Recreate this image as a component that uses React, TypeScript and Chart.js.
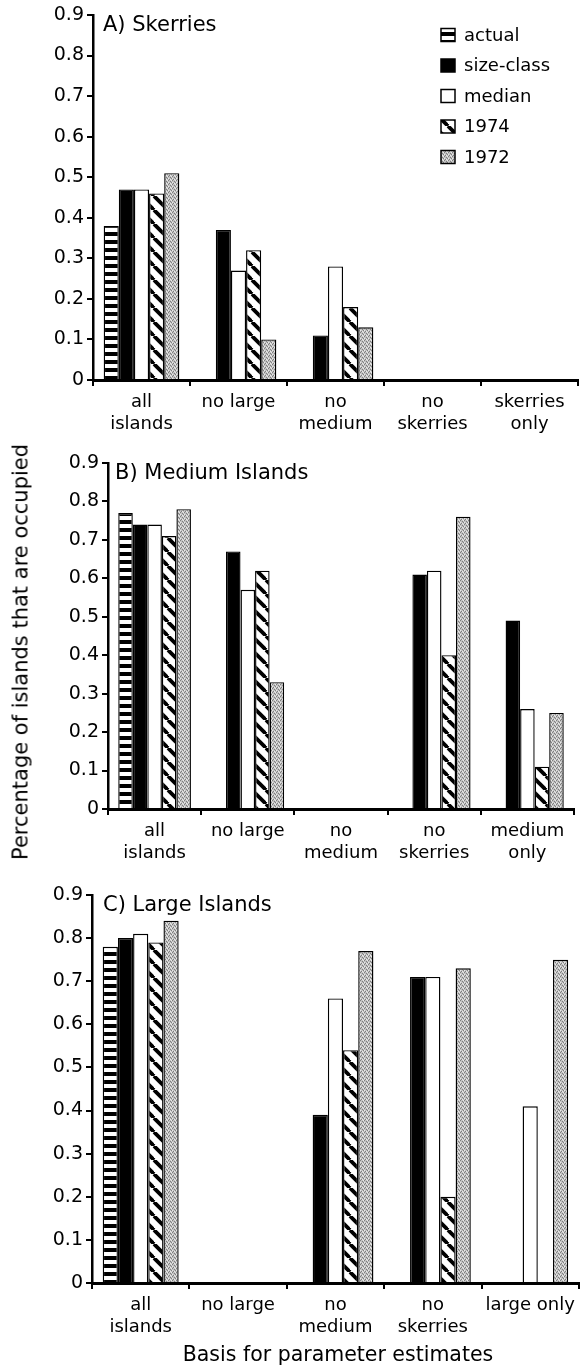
import React, { useEffect, useRef } from 'react';
import { Chart, registerables } from 'chart.js';

Chart.register(...registerables);

// ---------- data ----------
const seriesNames = ['actual', 'size-class', 'median', '1974', '1972'];
const yTickLabels = ['0', '0.1', '0.2', '0.3', '0.4', '0.5', '0.6', '0.7', '0.8', '0.9'];

const categoriesA = [['all', 'islands'], ['no large'], ['no', 'medium'], ['no', 'skerries'], ['skerries', 'only']];
const categoriesB = [['all', 'islands'], ['no large'], ['no', 'medium'], ['no', 'skerries'], ['medium', 'only']];
const categoriesC = [['all', 'islands'], ['no large'], ['no', 'medium'], ['no', 'skerries'], ['large only']];

// A) Skerries
const actualA = [0.38, null, null, null, null];
const sizeClassA = [0.47, 0.37, 0.11, null, null];
const medianA = [0.47, 0.27, 0.28, null, null];
const y1974A = [0.46, 0.32, 0.18, null, null];
const y1972A = [0.51, 0.10, 0.13, null, null];

// B) Medium Islands
const actualB = [0.77, null, null, null, null];
const sizeClassB = [0.74, 0.67, null, 0.61, 0.49];
const medianB = [0.74, 0.57, null, 0.62, 0.26];
const y1974B = [0.71, 0.62, null, 0.40, 0.11];
const y1972B = [0.78, 0.33, null, 0.76, 0.25];

// C) Large Islands
const actualC = [0.78, null, null, null, null];
const sizeClassC = [0.80, null, 0.39, 0.71, null];
const medianC = [0.81, null, 0.66, 0.71, 0.41];
const y1974C = [0.79, null, 0.54, 0.20, null];
const y1972C = [0.84, null, 0.77, 0.73, 0.75];

const yAxisTitle = 'Percentage of islands that are occupied';
const xAxisTitle = 'Basis for parameter estimates';

// ---------- layout / style ----------
const FONT = "'DejaVu Sans', 'Liberation Sans', sans-serif";
const W = 581;

type Area = { left: number; right: number; top: number; bottom: number };
type Panel = {
  key: string;
  title: string;
  categories: string[][];
  values: (number | null)[][];
  top: number;
  height: number;
  area: Area;
  titleDx: number;
  legend: boolean;
};

const panels: Panel[] = [
  {
    key: 'A', title: 'A) Skerries', categories: categoriesA,
    values: [actualA, sizeClassA, medianA, y1974A, y1972A],
    top: 0, height: 440, area: { left: 93, right: 578, top: 15, bottom: 380 }, titleDx: 10, legend: true,
  },
  {
    key: 'B', title: 'B) Medium Islands', categories: categoriesB,
    values: [actualB, sizeClassB, medianB, y1974B, y1972B],
    top: 440, height: 440, area: { left: 108, right: 574, top: 23, bottom: 369 }, titleDx: 7, legend: false,
  },
  {
    key: 'C', title: 'C) Large Islands', categories: categoriesC,
    values: [actualC, sizeClassC, medianC, y1974C, y1972C],
    top: 880, height: 487, area: { left: 92, right: 580, top: 15, bottom: 403 }, titleDx: 11, legend: false,
  },
];

function makePattern(w: number, h: number, draw: (ctx: CanvasRenderingContext2D) => void): CanvasPattern {
  const c = document.createElement('canvas');
  c.width = w;
  c.height = h;
  const ctx = c.getContext('2d') as CanvasRenderingContext2D;
  draw(ctx);
  return ctx.createPattern(c, 'repeat') as CanvasPattern;
}

function makeFills(): (string | CanvasPattern)[] {
  const stripes = makePattern(8, 8, (ctx) => {
    ctx.fillStyle = '#fff';
    ctx.fillRect(0, 0, 8, 8);
    ctx.fillStyle = '#000';
    ctx.fillRect(0, 0, 8, 4);
  });
  const hatch = makePattern(14, 14, (ctx) => {
    ctx.fillStyle = '#fff';
    ctx.fillRect(0, 0, 14, 14);
    ctx.strokeStyle = '#000';
    ctx.lineWidth = 3.8;
    for (const o of [-14, 0, 14]) {
      ctx.beginPath();
      ctx.moveTo(o, 0);
      ctx.lineTo(o + 14, 14);
      ctx.stroke();
    }
  });
  const stipple = makePattern(4, 4, (ctx) => {
    ctx.fillStyle = '#c2c2c2';
    ctx.fillRect(0, 0, 4, 4);
    ctx.fillStyle = '#7e7e7e';
    [[0, 0], [2, 1], [1, 3], [3, 2]].forEach(([x, y]) => ctx.fillRect(x, y, 1, 1));
    ctx.fillStyle = '#eaeaea';
    [[2, 3], [0, 2], [3, 0]].forEach(([x, y]) => ctx.fillRect(x, y, 1, 1));
  });
  return [stripes, '#000', '#fff', hatch, stipple];
}

const panelDecor = {
  id: 'panelDecor',
  afterDraw(chart: any, _args: any, opts: any) {
    const { ctx, chartArea } = chart;
    ctx.save();
    ctx.fillStyle = '#000';
    ctx.font = `21px ${FONT}`;
    ctx.textBaseline = 'alphabetic';
    ctx.textAlign = 'left';
    ctx.fillText(opts.title, chartArea.left + opts.titleDx, chartArea.top + 16);
    if (opts.legend) {
      const x0 = 441;
      const y0 = 35;
      const gap = 30.5;
      chart.data.datasets.forEach((ds: any, i: number) => {
        const cy = y0 + i * gap;
        ctx.fillStyle = ds.backgroundColor;
        ctx.fillRect(x0, cy - 6.5, 14, 13);
        ctx.strokeStyle = '#000';
        ctx.lineWidth = 1.5;
        ctx.strokeRect(x0, cy - 6.5, 14, 13);
        ctx.fillStyle = '#000';
        ctx.font = `18px ${FONT}`;
        ctx.textBaseline = 'middle';
        ctx.fillText(ds.label, x0 + 23, cy + 1);
      });
    }
    ctx.restore();
  },
};

function buildConfig(p: Panel, fills: (string | CanvasPattern)[]): any {
  return {
    type: 'bar',
    data: {
      labels: p.categories,
      datasets: seriesNames.map((name, i) => ({
        label: name,
        data: p.values[i],
        backgroundColor: fills[i],
        borderColor: '#000',
        borderWidth: 1.4,
        barPercentage: 1,
        categoryPercentage: 0.78,
      })),
    },
    options: {
      animation: false,
      responsive: false,
      events: [],
      layout: { padding: { top: p.area.top, right: W - p.area.right, bottom: 0, left: 0 } },
      plugins: {
        legend: { display: false },
        tooltip: { enabled: false },
        panelDecor: { title: p.title, titleDx: p.titleDx, legend: p.legend },
      },
      scales: {
        x: {
          type: 'category',
          offset: true,
          grid: { offset: true, drawOnChartArea: false, drawTicks: true, tickLength: 6, lineWidth: 2, color: '#000' },
          border: { display: true, color: '#000', width: 3 },
          ticks: {
            color: '#000',
            font: { family: FONT, size: 18, lineHeight: 1.2 },
            padding: 6,
            autoSkip: false,
            maxRotation: 0,
            minRotation: 0,
          },
          afterFit: (s: any) => { s.height = p.height - p.area.bottom; },
        },
        y: {
          min: 0,
          max: 0.9,
          ticks: {
            stepSize: 0.1,
            color: '#000',
            font: { family: FONT, size: 19 },
            padding: 3,
            callback: (v: number) => yTickLabels[Math.round(v * 10)],
          },
          grid: { drawOnChartArea: false, drawTicks: true, tickLength: 6, lineWidth: 2, color: '#000' },
          border: { display: true, color: '#000', width: 2.5 },
          afterFit: (s: any) => { s.width = p.area.left; },
        },
      },
    },
    plugins: [panelDecor],
  };
}

function PanelChart({ panel }: { panel: Panel }) {
  const ref = useRef<HTMLCanvasElement | null>(null);
  useEffect(() => {
    if (!ref.current) return;
    const chart = new Chart(ref.current, buildConfig(panel, makeFills()));
    return () => chart.destroy();
  }, [panel]);
  return (
    <div style={{ position: 'absolute', left: 0, top: panel.top, width: W, height: panel.height }}>
      <canvas ref={ref} width={W} height={panel.height} style={{ display: 'block' }} />
    </div>
  );
}

export default function App() {
  return (
    <div style={{ position: 'absolute', left: 0, top: 0, width: W, height: 1367, background: '#fff', overflow: 'hidden' }}>
      {panels.map((p) => (
        <PanelChart key={p.key} panel={p} />
      ))}
      <div
        style={{
          position: 'absolute', left: 21, top: 652,
          transform: 'translate(-50%, -50%) rotate(-90deg)',
          whiteSpace: 'nowrap', fontFamily: FONT, fontSize: 21, lineHeight: 1, color: '#000',
        }}
      >
        {yAxisTitle}
      </div>
      <div
        style={{
          position: 'absolute', left: 338, top: 1344,
          transform: 'translateX(-50%)',
          whiteSpace: 'nowrap', fontFamily: FONT, fontSize: 20.5, lineHeight: 1, color: '#000',
        }}
      >
        {xAxisTitle}
      </div>
    </div>
  );
}
